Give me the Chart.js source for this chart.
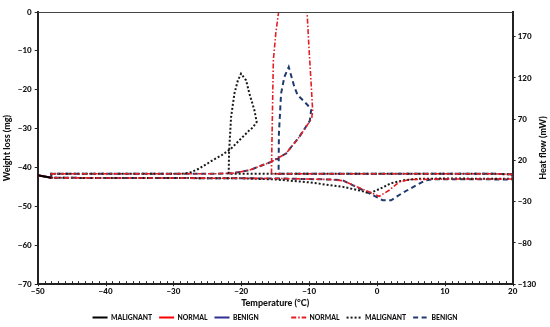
<!DOCTYPE html>
<html><head><meta charset="utf-8">
<script src="https://cdn.jsdelivr.net/npm/chart.js@4.4.1/dist/chart.umd.min.js"></script>
<style>html,body{margin:0;padding:0;background:#fff;}#wrap{width:550px;height:327px;position:relative;}</style>
</head><body><div id="wrap"><canvas id="c"></canvas></div>
<script>
// Axis ticks
const xTickValues = [-50, -40, -30, -20, -10, 0, 10, 20];
const leftTickValues = [-70, -60, -50, -40, -30, -20, -10, 0];
const rightTickValues = [-130, -80, -30, 20, 70, 120, 170];

// TGA weight loss (mg), left axis
const tgaTemp = [-50, -48];
const tgaMalignant = [-42.0, -42.6];
const tgaNormal = [-42.0, -42.6];
const tgaBenign = [-42.0, -42.6];

// DSC heat flow (mW), right axis
const dscNormalT = [20, 17, 0, -15.55, -15.5, -15.4, -15.27, -14.9, -14.49, -13.8, -12.5, -11.2, -10.6, -10.3, -10.0, -9.7, -9.48, -9.6, -9.96, -11.45, -13.4, -15.6, -18.8, -21.3, -24, -40, -48, -48, -40, -30, -15, -7, -5, -2.85, 0.35, 1.8, 3.3, 4.8, 10, 20, 20];
const dscNormalHF = [3.2, 3.9, 3.9, 3.9, 30, 80, 141.5, 175, 200, 240, 280, 260, 230, 200, 153.6, 113.2, 81, 72, 66.7, 48.6, 28.4, 18.2, 8.2, 4.5, 3.9, 3.9, 3.8, -1.0, -1.2, -1.3, -1.8, -3, -4.5, -12.2, -23.4, -16.1, -6, -3.1, -2.5, -2.5, 3.2];

const dscMalignantT = [20, 17, 0, -21.85, -21.8, -21.5, -21.0, -20.5, -20.03, -19.29, -18.8, -18.06, -17.73, -18.3, -18.8, -20.13, -21.5, -22.9, -24.2, -26.2, -27.6, -28.8, -40, -48, -48, -40, -30, -20, -15, -10, -5, -2.5, -1.1, 0.4, 2.1, 4.0, 6.2, 10, 20, 20];
const dscMalignantHF = [3.0, 3.9, 3.9, 3.9, 30, 72.7, 101.5, 117, 125.3, 117.2, 101.1, 80.9, 66.7, 60, 56.6, 45.7, 34.4, 26.3, 20.3, 10.2, 5.1, 3.9, 3.9, 3.8, -1.0, -1.2, -1.3, -1.6, -3, -6.5, -12, -16.5, -19.7, -14.5, -7.5, -3.9, -2.2, -1.9, -2.2, 3.0];

const dscBenignT = [20, 17, 0, -14.5, -14.45, -14.13, -13.65, -13.0, -12.17, -11.7, -10.2, -9.7, -9.9, -11.45, -13.4, -15.6, -18.8, -21.3, -24, -40, -48, -48, -40, -30, -15, -7, -5.1, -1.6, 0.84, 2.1, 3.7, 5.8, 7.2, 8.5, 20, 20];
const dscBenignHF = [3.2, 3.9, 3.9, 3.9, 52.6, 101.1, 121.2, 133.3, 109.1, 99.4, 87, 81, 68, 48.6, 28.4, 18.2, 8.2, 4.5, 3.9, 3.9, 3.8, -1.0, -1.2, -1.3, -1.8, -3, -3.9, -17.8, -28.2, -28.2, -19.7, -10, -4, -2.7, -3, 3.2];

const pts = (xs, ys) => xs.map((x, i) => ({x: x, y: ys[i]}));
const FONT = 'Lato';
const W = 900;
const TXT = '#111';
const minus = v => (v < 0 ? '\u2212' + Math.abs(v) : String(v));

const extras = {
  id: 'extras',
  afterDraw(chart) {
    const ctx = chart.ctx, a = chart.chartArea, xs = chart.scales.x, y2 = chart.scales.y2;
    ctx.save();
    ctx.strokeStyle = '#444'; ctx.lineWidth = 1;
    ctx.beginPath(); ctx.moveTo(a.left, a.top + 0.5); ctx.lineTo(a.right, a.top + 0.5); ctx.stroke();
    ctx.strokeStyle = '#222'; ctx.lineWidth = 1;
    for (let t = -50; t <= 20; t++) {
      const px = Math.round(xs.getPixelForValue(t)) + 0.5;
      const major = t % 10 === 0;
      ctx.beginPath(); ctx.moveTo(px, a.bottom + (major ? 2 : 0)); ctx.lineTo(px, a.bottom - 3); ctx.stroke();
    }
    ctx.font = W + ' 9px ' + FONT; ctx.fillStyle = TXT;
    ctx.textAlign = 'center'; ctx.textBaseline = 'middle';
    ctx.translate(y2.right - 7, (a.top + a.bottom) / 2);
    ctx.rotate(-Math.PI / 2);
    ctx.fillText('Heat flow (mW)', 0, 0);
    ctx.restore();
  }
};

new Chart(document.getElementById('c'), {
  type: 'scatter',
  data: {
    datasets: [
      {label: 'MALIGNANT', data: pts(tgaTemp, tgaMalignant), yAxisID: 'y', borderColor: '#000000', backgroundColor: '#000000', borderWidth: 2, showLine: true, pointRadius: 0},
      {label: 'NORMAL', data: pts(tgaTemp, tgaNormal), yAxisID: 'y', borderColor: '#FF0000', backgroundColor: '#FF0000', borderWidth: 2, showLine: true, pointRadius: 0},
      {label: 'BENIGN', data: pts(tgaTemp, tgaBenign), yAxisID: 'y', borderColor: '#2E3192', backgroundColor: '#2E3192', borderWidth: 2, showLine: true, pointRadius: 0},
      {label: 'NORMAL', data: pts(dscNormalT, dscNormalHF), yAxisID: 'y2', borderColor: '#E31E24', backgroundColor: '#E31E24', borderWidth: 1.6, borderDash: [5, 2, 1.5, 2], showLine: true, pointRadius: 0},
      {label: 'MALIGNANT', data: pts(dscMalignantT, dscMalignantHF), yAxisID: 'y2', borderColor: '#1a1a1a', backgroundColor: '#1a1a1a', borderWidth: 2, borderDash: [2, 2], showLine: true, pointRadius: 0},
      {label: 'BENIGN', data: pts(dscBenignT, dscBenignHF), yAxisID: 'y2', borderColor: '#1F3A6E', backgroundColor: '#1F3A6E', borderWidth: 2, borderDash: [5, 3.5], showLine: true, pointRadius: 0}
    ]
  },
  options: {
    responsive: true, maintainAspectRatio: false, animation: false,
    layout: {padding: {top: 12, right: 0, left: 0, bottom: -4}},
    plugins: {
      tooltip: {enabled: false},
      legend: {
        position: 'bottom',
        labels: {
          usePointStyle: true, pointStyle: 'line', pointStyleWidth: 15, boxHeight: 8, padding: 7,
          color: TXT, font: {family: FONT, size: 6.8, weight: W},
          generateLabels(chart) {
            const items = Chart.defaults.plugins.legend.labels.generateLabels(chart);
            items.forEach(it => {
              const ds = chart.data.datasets[it.datasetIndex];
              it.lineDash = ds.borderDash || [];
              it.lineWidth = 2;
              it.strokeStyle = ds.borderColor;
            });
            items.splice(3, 0, {text: '', fillStyle: 'rgba(0,0,0,0)', strokeStyle: 'rgba(0,0,0,0)', lineWidth: 0, hidden: false, datasetIndex: -1});
            return items;
          }
        }
      }
    },
    scales: {
      x: {
        type: 'linear', min: -50, max: 20,
        afterBuildTicks: s => { s.ticks = xTickValues.map(v => ({value: v})); },
        ticks: {callback: v => minus(v), color: TXT, font: {family: FONT, size: 8, weight: W, lineHeight: 1}, padding: 3, maxRotation: 0, autoSkip: false},
        grid: {display: true, drawOnChartArea: false, drawTicks: false},
        border: {color: '#222', width: 2},
        title: {display: true, text: 'Temperature (°C)', color: TXT, font: {family: FONT, size: 9, weight: W, lineHeight: 1}, padding: {top: 0, bottom: 0}}
      },
      y: {
        type: 'linear', position: 'left', min: -70, max: 0,
        afterBuildTicks: s => { s.ticks = leftTickValues.map(v => ({value: v})); },
        ticks: {callback: v => minus(v), color: TXT, font: {family: FONT, size: 8, weight: W}, padding: 3},
        grid: {display: true, drawOnChartArea: false, tickLength: 3, tickColor: '#222'},
        border: {color: '#222', width: 2},
        title: {display: true, text: 'Weight loss (mg)', color: TXT, font: {family: FONT, size: 9, weight: W}, padding: {top: 2, bottom: 2}}
      },
      y2: {
        type: 'linear', position: 'right', min: -130, max: 200,
        afterBuildTicks: s => { s.ticks = rightTickValues.map(v => ({value: v})); },
        ticks: {callback: v => minus(v), color: TXT, font: {family: FONT, size: 8, weight: W}, padding: 2},
        grid: {display: true, drawOnChartArea: false, tickLength: 3, tickColor: '#222'},
        border: {color: '#222', width: 2},
        title: {display: true, text: 'Heat flow (mW)', color: 'rgba(0,0,0,0)', font: {family: FONT, size: 9, weight: W}, padding: {top: 0, bottom: 1}}
      }
    }
  },
  plugins: [extras]
});
</script></body></html>
